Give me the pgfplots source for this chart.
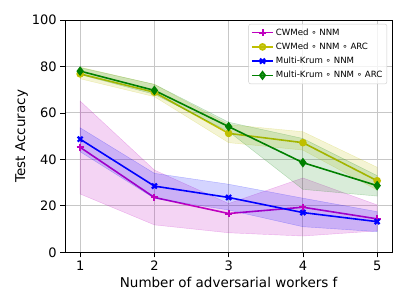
\documentclass[border=0pt]{standalone}
\usepackage{fontspec}
\setmainfont{DejaVu Sans}
\usepackage{pgfplots}
\pgfplotsset{compat=1.18}
\definecolor{mplm}{rgb}{0.75,0,0.75}
\definecolor{mply}{rgb}{0.75,0.75,0}
\definecolor{mplb}{rgb}{0,0,1}
\definecolor{mplg}{rgb}{0,0.5,0}
\begin{document}
\begin{tikzpicture}
\begin{axis}[
  scale only axis, width=326.7pt, height=232.3pt,
  xmin=0.8, xmax=5.2, ymin=0, ymax=100,
  xtick={1,2,3,4,5}, ytick={0,20,40,60,80,100},
  grid=major, grid style={line width=0.9pt, black!22},
  tick align=outside, major tick length=5pt, tick style={black, line width=0.8pt},
  xtick pos=left, ytick pos=left,
  axis line style={line width=0.8pt},
  ticklabel style={font=\fontsize{13}{15}\selectfont},
  /pgf/number format/assume math mode=true,
  label style={font=\fontsize{13.5}{16}\selectfont},
  xlabel={Number of adversarial workers f},
  ylabel={Test Accuracy},
  xlabel style={at={(axis description cs:0.5,-0.129)}, anchor=center},
  ylabel style={at={(axis description cs:-0.1335,0.5)}, anchor=center},
  legend style={at={(0.985,0.983)}, anchor=north east, font=\fontsize{8.6}{10}\selectfont,
    draw=black!20, rounded corners=2pt, fill=white, fill opacity=0.8, text opacity=1,
    inner sep=2.5pt, row sep=2.2pt},
  legend cell align=left,
  legend image code/.code={\draw[mark repeat=2,mark phase=2] plot coordinates {(0cm,0cm) (0.37cm,0cm) (0.74cm,0cm)};},
]
% CWMed o NNM
\addplot[mplm, line width=1.6pt, mark=+, mark size=3.5pt, mark options={line width=2pt}]
  coordinates {(1,45.2) (2,23.6) (3,16.7) (4,19.4) (5,14.4)};
\addlegendentry{CWMed ∘ NNM}
\addplot[draw=mplm, draw opacity=0.25, fill=mplm, fill opacity=0.17, forget plot]
  coordinates {(1,65.1) (2,35.4) (3,21) (4,32) (5,20.4) (5,9.2) (4,7.0) (3,8.4) (2,11.8) (1,25.1)} -- cycle;
% CWMed o NNM o ARC
\addplot[mply, line width=1.6pt, mark=*, mark size=3pt]
  coordinates {(1,76.8) (2,68.9) (3,51.2) (4,47.2) (5,30.8)};
\addlegendentry{CWMed ∘ NNM ∘ ARC}
\addplot[draw=mply, draw opacity=0.25, fill=mply, fill opacity=0.17, forget plot]
  coordinates {(1,79.7) (2,72.3) (3,55) (4,51.9) (5,36.6) (5,26.8) (4,44) (3,47.2) (2,67) (1,74.7)} -- cycle;
% Multi-Krum o NNM
\addplot[mplb, line width=1.6pt, mark=x, mark size=3.5pt, mark options={line width=2.2pt}]
  coordinates {(1,48.7) (2,28.5) (3,23.6) (4,17.1) (5,13.2)};
\addlegendentry{Multi-Krum ∘ NNM}
\addplot[draw=mplb, draw opacity=0.25, fill=mplb, fill opacity=0.17, forget plot]
  coordinates {(1,53.6) (2,34) (3,29.3) (4,23.3) (5,17.5) (5,8.9) (4,11) (3,18.2) (2,23.2) (1,43.3)} -- cycle;
% Multi-Krum o NNM o ARC
\addplot[mplg, line width=1.6pt, mark=diamond*, mark size=3.6pt]
  coordinates {(1,78) (2,69.7) (3,54.1) (4,38.6) (5,28.7)};
\addlegendentry{Multi-Krum ∘ NNM ∘ ARC}
\addplot[draw=mplg, draw opacity=0.25, fill=mplg, fill opacity=0.15, forget plot]
  coordinates {(1,79.5) (2,72.3) (3,56) (4,49) (5,33) (5,24.2) (4,27.1) (3,52) (2,68) (1,76.5)} -- cycle;
\coordinate (bl) at (rel axis cs:0,0);
\coordinate (tr) at (rel axis cs:1,1);
\end{axis}
\pgfresetboundingbox
\path ([shift={(-65.3pt,-52.7pt)}]bl) rectangle ([shift={(15pt,20pt)}]tr);
\end{tikzpicture}
\end{document}
